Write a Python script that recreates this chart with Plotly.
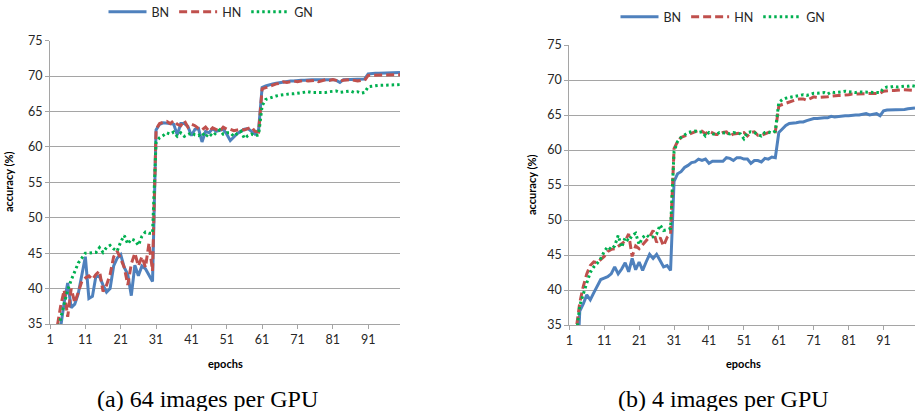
import plotly.graph_objects as go

epochs = list(range(1, 101))

bn_a = [15, 22, 28, 34.5, 38.0, 40.8, 37.3, 37.8, 39.3, 42.0,
        44.5, 38.6, 38.9, 41.8, 41.7, 40.5, 39.5, 40.0, 43.2, 44.3,
        44.8, 43.0, 42.0, 39.0, 43.3, 41.8, 43.2, 42.8, 41.8, 41.0,
        62.4, 63.2, 63.4, 63.4, 63.3, 63.2, 61.7, 63.3, 63.3, 62.9,
        61.6, 62.5, 62.6, 60.7, 62.2, 62.0, 62.6, 62.2, 62.3, 62.5,
        61.8, 60.9, 61.4, 61.9, 62.2, 62.5, 62.6, 62.2, 61.8, 62.4,
        68.4, 68.6, 68.8, 68.9, 69.0, 69.1, 69.2, 69.3, 69.3, 69.3,
        69.4, 69.4, 69.4, 69.5, 69.5, 69.5, 69.5, 69.5, 69.6, 69.6,
        69.5, 69.4, 69.1, 69.5, 69.5, 69.6, 69.6, 69.6, 69.6, 69.6,
        70.3, 70.4, 70.4, 70.4, 70.4, 70.4, 70.4, 70.5, 70.5, 70.5]

hn_a = [18, 25, 34.5, 37.5, 39.8, 36.0, 40.0, 38.0, 39.5, 41.0,
        41.5, 41.8, 41.3, 42.0, 42.5, 39.6, 40.5, 42.0, 44.5, 45.3,
        44.2, 43.0, 40.5, 43.5, 45.0, 43.2, 44.5, 43.0, 46.4, 42.5,
        62.5, 63.3, 63.5, 63.6, 63.3, 63.7, 63.2, 63.0, 63.7, 62.8,
        63.2, 63.0, 62.6, 62.4, 62.8, 62.2, 62.7, 62.5, 62.2, 62.8,
        62.5, 62.5, 62.3, 62.4, 62.5, 62.4, 62.6, 62.8, 62.2, 62.1,
        68.2, 68.4, 68.6, 68.8, 68.9, 69.0, 69.2, 69.1, 69.2, 69.3,
        69.2, 69.3, 69.4, 69.3, 69.4, 69.4, 69.2, 69.4, 69.5, 69.4,
        69.5, 69.4, 69.3, 69.4, 69.5, 69.5, 69.4, 69.3, 69.4, 69.4,
        70.1, 70.1, 70.2, 70.1, 70.1, 70.2, 70.1, 70.2, 70.2, 70.2]

gn_a = [20, 27, 33, 35.8, 37.8, 39.8, 41.2, 42.5, 43.6, 44.3,
        45.0, 45.0, 45.0, 45.1, 45.8, 45.1, 45.8, 46.1, 45.6, 45.3,
        46.6, 47.5, 46.3, 47.0, 46.8, 46.1, 47.4, 48.0, 47.8, 47.8,
        60.7, 61.3, 61.6, 62.0, 61.8, 62.1, 61.5, 62.0, 61.5, 61.8,
        62.0, 61.7, 61.6, 62.0, 61.4, 61.9, 61.5, 62.0, 62.4, 61.8,
        62.0, 62.0, 61.5, 61.9, 62.2, 61.2, 61.6, 61.8, 61.6, 61.7,
        65.8, 66.7, 66.9, 67.1, 67.2, 67.3, 67.4, 67.4, 67.5, 67.5,
        67.6, 67.6, 67.7, 67.8, 67.7, 67.7, 67.6, 67.7, 67.7, 67.8,
        67.8, 67.9, 67.7, 67.8, 67.8, 67.9, 67.7, 67.8, 67.6, 67.7,
        68.5, 68.6, 68.6, 68.7, 68.7, 68.7, 68.8, 68.7, 68.8, 68.8]

bn_b = [15, 20, 26, 37.0, 38.0, 39.3, 38.6, 39.6, 40.6, 41.5,
        41.7, 41.9, 42.3, 43.3, 42.3, 43.0, 43.9, 42.6, 44.5, 42.9,
        44.0, 42.8, 44.0, 45.1, 44.5, 45.1, 44.2, 43.3, 43.5, 42.8,
        55.5, 56.6, 56.9, 57.5, 57.8, 58.2, 58.3, 58.7, 58.5, 58.7,
        58.1, 58.4, 58.4, 58.4, 58.4, 58.9, 58.8, 58.5, 58.9, 58.9,
        58.7, 58.7, 58.1, 58.5, 58.5, 58.3, 58.8, 58.7, 59.0, 58.9,
        62.5, 63.0, 63.5, 63.8, 63.8, 63.9, 64.0, 64.0, 64.2, 64.4,
        64.5, 64.5, 64.6, 64.6, 64.6, 64.8, 64.7, 64.8, 64.9, 64.9,
        64.9, 65.0, 65.0, 65.0, 65.1, 65.2, 65.0, 65.1, 65.2, 64.9,
        65.6, 65.7, 65.7, 65.7, 65.8, 65.8, 65.8, 65.9, 65.9, 66.0]

hn_b = [18, 25, 34.5, 38.2, 40.5, 42.3, 43.5, 44.0, 43.9, 44.3,
        44.8, 45.5, 45.8, 45.9, 46.2, 46.6, 47.0, 48.0, 44.8, 46.3,
        45.9, 46.5, 47.0, 47.6, 48.5, 46.8, 47.5, 46.3, 47.5, 48.0,
        60.2, 61.2, 61.8, 62.0, 62.3, 62.5, 62.7, 62.8, 62.7, 62.3,
        62.7, 62.4, 62.2, 62.2, 62.5, 62.6, 62.0, 62.3, 62.4, 62.5,
        62.5, 62.0, 62.5, 62.6, 62.1, 62.1, 62.3, 62.6, 62.7, 62.6,
        66.3, 66.5, 66.7, 66.9, 67.0, 67.2, 67.3, 67.3, 67.1, 67.4,
        67.6, 67.5, 67.5, 67.6, 67.6, 67.7, 67.8, 67.8, 67.8, 67.8,
        67.9, 68.0, 68.0, 68.0, 68.0, 68.1, 68.1, 68.1, 68.1, 68.1,
        68.4, 68.5, 68.5, 68.5, 68.6, 68.6, 68.6, 68.6, 68.5, 68.5]

gn_b = [20, 27, 33.5, 37.8, 39.5, 41.0, 42.5, 43.3, 43.8, 44.5,
        45.5, 46.2, 45.8, 46.3, 47.8, 46.1, 47.5, 47.0, 47.8, 48.1,
        46.5, 47.5, 47.9, 47.5, 47.6, 48.0, 49.3, 48.5, 48.6, 48.8,
        59.8, 61.2, 61.8, 62.2, 62.5, 62.6, 62.7, 62.5, 62.6, 62.0,
        62.5, 62.3, 62.2, 62.5, 62.5, 62.4, 62.3, 62.5, 62.4, 62.3,
        61.6, 62.5, 62.6, 62.5, 62.2, 62.0, 62.5, 62.6, 62.4, 62.7,
        66.8, 67.2, 67.4, 67.5, 67.7, 67.8, 67.8, 67.9, 67.8, 68.0,
        68.1, 68.1, 68.2, 68.2, 68.0, 68.3, 68.2, 68.2, 68.3, 68.4,
        68.3, 68.3, 68.2, 68.3, 68.3, 68.2, 68.3, 68.3, 68.2, 68.2,
        68.8, 69.0, 69.0, 69.1, 69.0, 69.1, 69.1, 69.1, 69.2, 69.1]

series_names = ["BN", "HN", "GN"]
captions = ["(a) 64 images per GPU", "(b) 4 images per GPU"]
y_ticks = [35, 40, 45, 50, 55, 60, 65, 70, 75]
x_ticks = [1, 11, 21, 31, 41, 51, 61, 71, 81, 91]

W, H = 917, 411
BLUE, RED, GREEN = "#4F81BD", "#C0504D", "#00B050"
styles = [dict(color=BLUE, width=3, dash="solid"),
          dict(color=RED, width=3, dash="8px,4px"),
          dict(color=GREEN, width=3, dash="2.5px,3px")]

fig = go.Figure()

panels = [
    dict(data=[bn_a, hn_a, gn_a], xa="x", ya="y", legend="legend"),
    dict(data=[bn_b, hn_b, gn_b], xa="x2", ya="y2", legend="legend2"),
]
for p in panels:
    for name, vals, st in zip(series_names, p["data"], styles):
        fig.add_trace(go.Scatter(
            x=epochs, y=vals, mode="lines", name=name,
            line=st, xaxis=p["xa"], yaxis=p["ya"],
            legend=p["legend"], cliponaxis=True))

tick_font = dict(family="Lato, 'Open Sans', sans-serif", size=12.5, color="#262626")
grid = "#A5A5A5"

def xaxis(dom, anchor):
    return dict(domain=dom, anchor=anchor, range=[1, 100], tickmode="array",
                tickvals=x_ticks, ticktext=[str(t) for t in x_ticks],
                showgrid=False, zeroline=False, showline=True, linecolor=grid,
                linewidth=1, ticks="outside", ticklen=4, tickcolor=grid,
                tickfont=tick_font, automargin=False)

def yaxis(dom, anchor):
    return dict(domain=dom, anchor=anchor, range=[35, 75], tickmode="array",
                tickvals=y_ticks, ticktext=[str(t) for t in y_ticks],
                showgrid=True, gridcolor=grid, gridwidth=1.2, zeroline=False,
                showline=True, linecolor=grid, linewidth=1, ticks="outside",
                ticklen=4, tickcolor=grid, tickfont=tick_font, automargin=False)

leg_font = dict(family="Lato, sans-serif", size=12.5, color="#262626")
fig.update_layout(
    width=W, height=H, margin=dict(l=0, r=0, t=0, b=0, autoexpand=False),
    paper_bgcolor="white", plot_bgcolor="white",
    xaxis=xaxis([50 / W, 400 / W], "y"),
    yaxis=yaxis([1 - 324 / H, 1 - 40.7 / H], "x"),
    xaxis2=xaxis([569.3 / W, 915 / W], "y2"),
    yaxis2=yaxis([1 - 325 / H, 1 - 45 / H], "x2"),
    legend=dict(orientation="h", xref="container", yref="container",
                x=211 / W, xanchor="center", y=1 - 12 / H, yanchor="middle",
                font=leg_font, itemwidth=38, tracegroupgap=0,
                bgcolor="rgba(0,0,0,0)"),
    legend2=dict(orientation="h", xref="container", yref="container",
                 x=723 / W, xanchor="center", y=1 - 17 / H, yanchor="middle",
                 font=leg_font, itemwidth=38, tracegroupgap=0,
                 bgcolor="rgba(0,0,0,0)"),
    showlegend=True,
)

label_font = dict(family="Lato, sans-serif", size=11, color="#000000")
ann = [
    dict(text="<b>accuracy (%)</b>", x=8 / W, y=1 - 182 / H, textangle=-90),
    dict(text="<b>accuracy (%)</b>", x=531 / W, y=1 - 185 / H, textangle=-90),
    dict(text="<b>epochs</b>", x=225 / W, y=1 - 363 / H),
    dict(text="<b>epochs</b>", x=743 / W, y=1 - 363 / H),
]
for a in ann:
    fig.add_annotation(xref="paper", yref="paper", showarrow=False,
                       xanchor="center", yanchor="middle", font=label_font, **a)

cap_font = dict(family="'Liberation Serif', 'Times New Roman', serif", size=24, color="#000000")
for cx, txt in zip([207 / W, 723.5 / W], captions):
    fig.add_annotation(xref="paper", yref="paper", x=cx, y=1 - 399 / H,
                       text=txt, showarrow=False,
                       xanchor="center", yanchor="middle", font=cap_font)

fig.write_html("out.html", config={"displayModeBar": False},
               post_script="document.body.style.margin='0';document.body.style.overflow='hidden';")
